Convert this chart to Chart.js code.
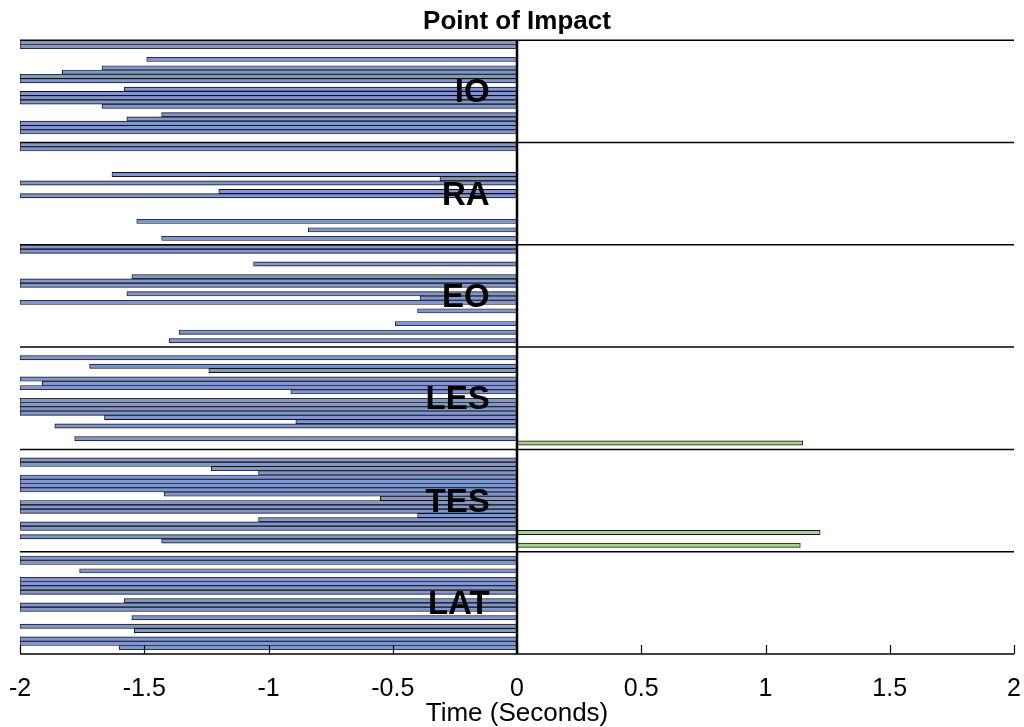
<!DOCTYPE html>
<html>
<head>
<meta charset="utf-8">
<script src="https://cdn.jsdelivr.net/npm/chart.js@4.4.1/dist/chart.umd.min.js"></script>
<style>
  html, body { margin: 0; background: #fff; }
  canvas { display: block; }
</style>
</head>
<body>
<canvas id="impact-chart" width="1024" height="727"></canvas>
<script>
const _ = null;
const F = -2; // onset at or before the start of the window

const muscles = ['IO', 'RA', 'EO', 'LES', 'TES', 'LAT'];
const timeTicks = [-2, -1.5, -1, -0.5, 0, 0.5, 1, 1.5, 2];
const SLOTS = 24;

// onset time relative to impact (s), one row per trial
const ioOnset  = [F, F, _, _, -1.49, _, -1.67, -1.83, F, F, _, -1.58, F, F, F, -1.67, _, -1.43, -1.57, F, F, F, _, _];
const raOnset  = [F, F, _, _, _, _, _, -1.63, -0.31, F, _, -1.20, F, _, _, _, _, _, -1.53, _, -0.84, _, -1.43, _];
const eoOnset  = [F, F, _, _, -1.06, _, _, -1.55, F, F, _, -1.57, -0.39, F, _, -0.40, _, _, -0.49, _, -1.36, _, -1.40, _];
const lesOnset = [_, _, F, _, -1.72, -1.24, _, F, -1.91, F, -0.91, _, F, F, F, F, -1.66, -0.89, -1.86, _, _, -1.78, _, _];
const tesOnset = [_, _, F, F, -1.23, -1.04, F, F, F, F, -1.42, -0.55, F, F, F, -0.40, -1.04, F, F, _, F, -1.43, _, _];
const latOnset = [_, F, F, _, -1.76, _, F, F, F, F, _, -1.58, F, F, _, -1.55, _, F, -1.54, _, F, F, -1.60, _];

// trials where the muscle switched on only after impact
const lesAfter = [_, _, _, _, _, _, _, _, _, _, _, _, _, _, _, _, _, _, _, _, _, _, 1.15, _];
const tesAfter = [_, _, _, _, _, _, _, _, _, _, _, _, _, _, _, _, _, _, _, 1.22, _, _, 1.14, _];
const noneAfter = [];

const before = [ioOnset, raOnset, eoOnset, lesOnset, tesOnset, latOnset];
const after = [noneAfter, noneAfter, noneAfter, lesAfter, tesAfter, noneAfter];

const labels = [];
const beforeData = [];
const afterData = [];
muscles.forEach((m, g) => {
    for (let i = 0; i < SLOTS; i++) {
        labels.push(m + ' ' + (i + 1));
        beforeData.push(before[g][i] ?? null);
        afterData.push(after[g][i] ?? null);
    }
});

const FONT = "'Liberation Sans', Arial, Helvetica, sans-serif";

/* ── Frame: group rules, zero line, inward ticks, muscle names ── */
const impactFrame = {
    id: 'impactFrame',
    afterDatasetsDraw(chart) {
        const { ctx, chartArea: a, scales: { x, y } } = chart;
        const half = (y.getPixelForValue(1) - y.getPixelForValue(0)) / 2;
        const hline = (yy, w) => {
            ctx.lineWidth = w;
            ctx.beginPath();
            ctx.moveTo(a.left, yy);
            ctx.lineTo(a.right, yy);
            ctx.stroke();
        };

        ctx.save();
        ctx.strokeStyle = '#000';

        muscles.forEach((m, g) => hline(y.getPixelForValue(g * SLOTS) - half, 1.5));
        hline(a.bottom, 1.5);

        ctx.lineWidth = 1.2;
        x.ticks.forEach(t => {
            const px = Math.round(x.getPixelForValue(t.value)) + 0.5;
            ctx.beginPath();
            ctx.moveTo(px, a.bottom);
            ctx.lineTo(px, a.bottom - 9);
            ctx.stroke();
        });

        const x0 = x.getPixelForValue(0);
        ctx.lineWidth = 2.5;
        ctx.beginPath();
        ctx.moveTo(x0, a.top);
        ctx.lineTo(x0, a.bottom);
        ctx.stroke();

        ctx.fillStyle = '#000';
        ctx.font = `bold 33px ${FONT}`;
        ctx.textAlign = 'right';
        ctx.textBaseline = 'middle';
        const lx = x.getPixelForValue(-0.11);
        muscles.forEach((m, g) => {
            const top = y.getPixelForValue(g * SLOTS) - half;
            const bottom = y.getPixelForValue(g * SLOTS + SLOTS - 1) + half;
            ctx.fillText(m, lx, (top + bottom) / 2 + 2);
        });
        ctx.restore();
    }
};

new Chart(document.getElementById('impact-chart'), {
    type: 'bar',
    data: {
        labels,
        datasets: [
            {
                label: 'Before impact',
                data: beforeData,
                backgroundColor: '#8096cc',
                borderColor: '#111',
                borderWidth: 0.9,
                borderSkipped: false,
            },
            {
                label: 'After impact',
                data: afterData,
                backgroundColor: '#a9d18e',
                borderColor: '#111',
                borderWidth: 0.9,
                borderSkipped: false,
            }
        ]
    },
    options: {
        indexAxis: 'y',
        responsive: false,
        animation: false,
        devicePixelRatio: 1,
        grouped: false,
        barPercentage: 1,
        categoryPercentage: 1,
        layout: { padding: { left: 20, right: 10, top: 0, bottom: 0 } },
        plugins: {
            legend: { display: false },
            tooltip: { enabled: false },
            title: {
                display: true,
                text: 'Point of Impact',
                color: '#000',
                font: { family: FONT, size: 26, weight: 'bold', lineHeight: 1.2 },
                padding: { top: 6, bottom: 3 }
            }
        },
        scales: {
            x: {
                type: 'linear',
                min: -2,
                max: 2,
                afterBuildTicks: axis => { axis.ticks = timeTicks.map(v => ({ value: v })); },
                afterFit: axis => {
                    axis.height = 73;
                    axis.paddingLeft = 0;
                    axis.paddingRight = 0;
                },
                grid: { display: false, drawTicks: false },
                border: { display: false },
                ticks: {
                    autoSkip: false,
                    maxRotation: 0,
                    padding: 23,
                    color: '#000',
                    font: { family: FONT, size: 25, lineHeight: 1 },
                    callback: v => String(v)
                },
                title: {
                    display: true,
                    text: 'Time (Seconds)',
                    color: '#000',
                    font: { family: FONT, size: 26, lineHeight: 1 },
                    padding: { top: 2, bottom: 0 }
                }
            },
            y: {
                type: 'category',
                display: false,
                offset: true
            }
        }
    },
    plugins: [impactFrame]
});
</script>
</body>
</html>
